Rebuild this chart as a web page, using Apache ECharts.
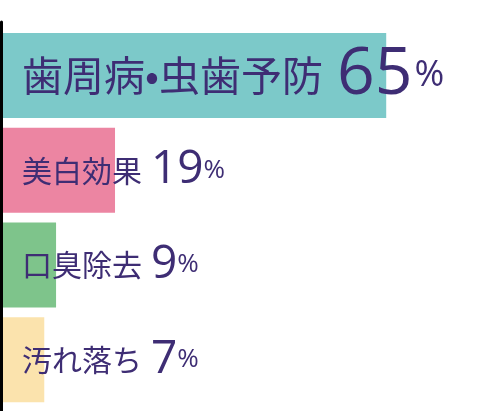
<!DOCTYPE html>
<html>
<head>
  <meta charset="UTF-8">
  <title></title>
  <script type="text/javascript" src="https://cdn.jsdelivr.net/npm/echarts@6/dist/echarts.min.js"></script>
  <style type="text/css">
    *{ margin: 0; padding: 0; }
    #main{ width: 500px; height: 411px; }
  </style>
</head>
<body>
  <div id="main"></div>
  <script type="text/javascript">
    var names = ['歯周病•虫歯予防', '美白効果', '口臭除去', '汚れ落ち'];
    var values = [65, 19, 9, 7];
    var colors = ['#7cc9c9', '#ec85a2', '#7ec48b', '#fbe3ad'];

    var myChart = echarts.init(document.getElementById('main'));

    function richFor(big){ //1本目だけ文字が大きい
      return {
        n: { fontFamily: 'Noto Sans CJK JP', fontSize: big ? 41 : 30, color: '#3e2d74' },
        v: { fontFamily: 'Open Sans', fontSize: big ? 66 : 46, color: '#3e2d74', padding: [0, 0, 0, big ? 14 : 9] },
        p: { fontFamily: 'Open Sans', fontSize: big ? 36 : 26, color: '#3e2d74', verticalAlign: 'middle', padding: [0, 0, 0, big ? 2 : 0] }
      };
    }

    var data = values.map(function(v, i){
      return {
        value: v,
        itemStyle: { color: colors[i] },
        label: { rich: richFor(i === 0) }
      };
    });

    var option = {
      animation: false,
      grid: [
        { left: 3, right: 0, top: 28, bottom: 4 },
        { left: 1.5, right: 0, top: 22, bottom: 0 }
      ],
      xAxis: [
        { type: 'value', min: 0, max: 84.3, show: false, gridIndex: 0 },
        { type: 'value', show: false, gridIndex: 1 }
      ],
      yAxis: [
        { type: 'category', data: names, inverse: true, show: false, gridIndex: 0 },
        { type: 'value', gridIndex: 1, axisLine: { show: true, lineStyle: { color: '#000', width: 3 } },
          axisTick: { show: false }, axisLabel: { show: false }, splitLine: { show: false } }
      ],
      series: [{
        type: 'bar',
        xAxisIndex: 0, yAxisIndex: 0,
        barWidth: 85,
        data: data,
        label: {
          show: true,
          position: [19, '50%'],
          align: 'left',
          verticalAlign: 'middle',
          formatter: function(p){ return '{n|' + p.name + '}{v|' + p.value + '}{p|%}'; }
        }
      }]
    };
    myChart.setOption(option);
  </script>
</body>
</html>
